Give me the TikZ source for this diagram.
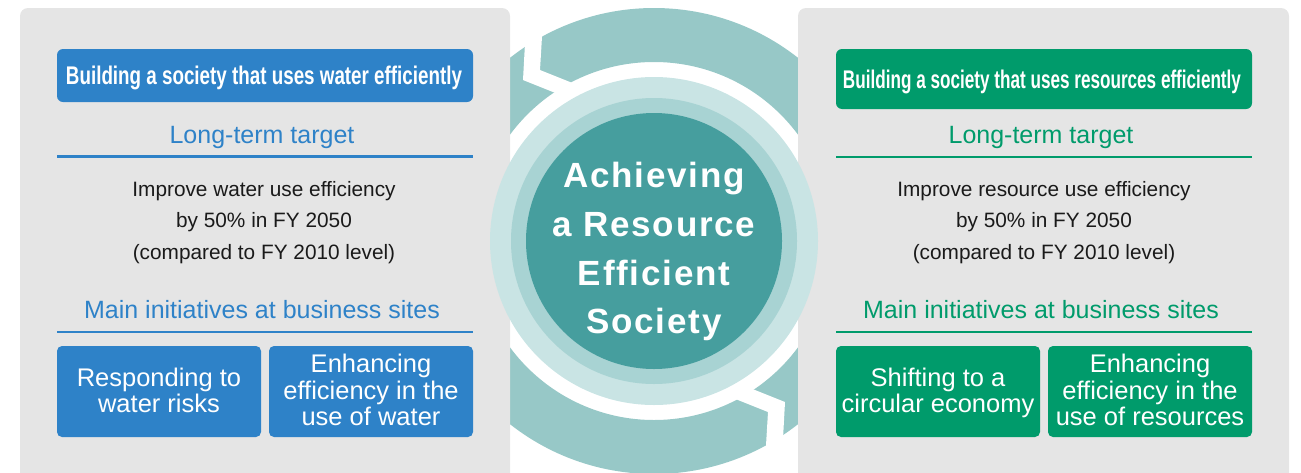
\documentclass[tikz,border=0pt]{standalone}
\usepackage{fontspec}
\setmainfont{Liberation Sans}
\newfontfamily\ctrfont{Liberation Sans}[LetterSpace=5]
\usepackage{graphicx}
\definecolor{panelgray}{RGB}{229,229,229}
\definecolor{wblue}{RGB}{46,130,200}
\definecolor{rgreen}{RGB}{0,155,107}
\definecolor{ringout}{RGB}{151,200,199}
\definecolor{ringlight}{RGB}{201,228,228}
\definecolor{ringmid}{RGB}{168,211,211}
\definecolor{ringdark}{RGB}{70,158,158}
\definecolor{textblack}{RGB}{26,26,26}
\tikzset{
  heading/.style={anchor=base, inner sep=0pt, font=\fontsize{25}{30}\selectfont},
  bodytxt/.style={anchor=base, inner sep=0pt, text=textblack, font=\fontsize{20.8}{25}\selectfont},
  titlebox/.style={rounded corners=6pt, inner sep=0pt, minimum width=416pt},
  titletxt/.style={anchor=base, inner sep=0pt, text=white, font=\bfseries},
  initbox/.style={rounded corners=5pt, minimum width=204pt, minimum height=91pt, inner sep=0pt},
  inittxt/.style={text=white, align=center, inner sep=0pt, font=\fontsize{25.5}{26.5}\selectfont},
  ctrtxt/.style={anchor=base, inner sep=0pt, text=white, font=\ctrfont\bfseries\fontsize{35}{40}\selectfont},
  rule/.style={line width=2.5pt}
}
\begin{document}
\begin{tikzpicture}[x=1pt,y=-1pt]
\useasboundingbox (0,0) rectangle (1301,472);
\begin{scope}
\clip (0,0) rectangle (1301,472);
% outer cycle ring
\fill[ringout, even odd rule] (654,241) circle[radius=233pt] (654,241) circle[radius=179pt];
\fill[white] (526,25) -- (523,80) -- (563,96) -- (580,86) -- (540,70) -- (543,20) -- cycle;
\fill[white] (782,457) -- (785,402) -- (745,386) -- (728,396) -- (768,412) -- (765,462) -- cycle;
% panels
\fill[panelgray, rounded corners=8pt] (20,8) rectangle (510,520);
\fill[panelgray, rounded corners=8pt] (798,8) rectangle (1289,520);
% centre discs
\fill[ringlight] (654,241) circle[radius=164pt];
\fill[ringmid] (654,241) circle[radius=143pt];
\node[circle, fill=ringdark, minimum size=256pt, inner sep=0pt] (core) at (654,241) {};
\end{scope}

% centre text
\node[ctrtxt] (c1) at (654,187) {Achieving};
\node[ctrtxt] (c2) at (654,236) {a Resource};
\node[ctrtxt] (c3) at (654,285) {Efficient};
\node[ctrtxt] (c4) at (654,333) {Society};

% left panel
\node[titlebox, fill=wblue, minimum height=53pt] (lt) at (265,75.5) {};
\node[titletxt] (ltt) at (264,84) {\resizebox{396pt}{18.5pt}{Building a society that uses water efficiently}};
\node[heading, text=wblue] (lh1) at (262,143) {Long-term target};
\draw[rule, wblue] (57,156.5) -- (473,156.5);
\node[bodytxt] (lb1) at (264,196) {Improve water use efficiency};
\node[bodytxt] (lb2) at (264,227.5) {by 50\% in FY 2050};
\node[bodytxt] (lb3) at (264,259) {(compared to FY 2010 level)};
\node[heading, text=wblue] (lh2) at (262,318) {Main initiatives at business sites};
\draw[rule, wblue] (57,332) -- (473,332);
\node[initbox, fill=wblue] (lbx1) at (159,391.5) {};
\node[initbox, fill=wblue] (lbx2) at (371,391.5) {};
\node[inittxt] (lbt1) at (159,394) {\strut Responding to\\\strut water risks};
\node[inittxt] (lbt2) at (371,394) {\strut Enhancing\\\strut efficiency in the\\\strut use of water};

% right panel
\node[titlebox, fill=rgreen, minimum height=60pt] (rt) at (1044,79) {};
\node[titletxt] (rtt) at (1042,88) {\resizebox{398pt}{18.5pt}{Building a society that uses resources efficiently}};
\node[heading, text=rgreen] (rh1) at (1041,143) {Long-term target};
\draw[rule, rgreen] (836,157) -- (1252,157);
\node[bodytxt] (rb1) at (1044,196) {Improve resource use efficiency};
\node[bodytxt] (rb2) at (1044,227.5) {by 50\% in FY 2050};
\node[bodytxt] (rb3) at (1044,259) {(compared to FY 2010 level)};
\node[heading, text=rgreen] (rh2) at (1041,318) {Main initiatives at business sites};
\draw[rule, rgreen] (836,332) -- (1252,332);
\node[initbox, fill=rgreen] (rbx1) at (938,391.5) {};
\node[initbox, fill=rgreen] (rbx2) at (1150,391.5) {};
\node[inittxt] (rbt1) at (938,394) {\strut Shifting to a\\\strut circular economy};
\node[inittxt] (rbt2) at (1150,394) {\strut Enhancing\\\strut efficiency in the\\\strut use of resources};
\end{tikzpicture}
\end{document}
